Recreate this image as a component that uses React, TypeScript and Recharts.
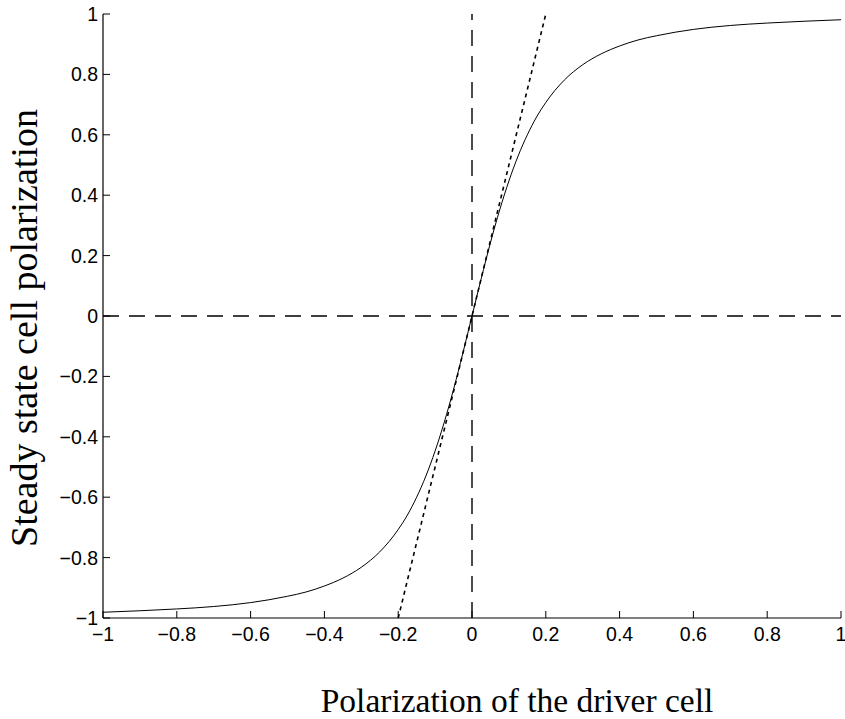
import React from 'react';
import { LineChart, Line, XAxis, YAxis, ReferenceLine, Label } from 'recharts';

// steady state response of the cell
const driverPol = [
  -1, -0.9, -0.8, -0.7, -0.6, -0.5, -0.45, -0.4, -0.35, -0.3, -0.25, -0.2, -0.175, -0.15, -0.125, -0.1, -0.075, -0.05, -0.025,
  0, 0.025, 0.05, 0.075, 0.1, 0.125, 0.15, 0.175, 0.2, 0.25, 0.3, 0.35, 0.4, 0.45, 0.5, 0.6, 0.7, 0.8, 0.9, 1,
];
const cellPol = [
  -0.981, -0.976, -0.970, -0.962, -0.949, -0.928, -0.914, -0.894, -0.868, -0.832, -0.781, -0.707, -0.659, -0.600, -0.530, -0.447, -0.351, -0.243, -0.124,
  0, 0.124, 0.243, 0.351, 0.447, 0.530, 0.600, 0.659, 0.707, 0.781, 0.832, 0.868, 0.894, 0.914, 0.928, 0.949, 0.962, 0.970, 0.976, 0.981,
];

// linear slope line (dotted)
const slopeX = [-0.2, 0.2];
const slopeY = [-1, 1];

// dashed zero lines
const zeroX = 0;
const zeroY = 0;

const axisTicks = [-1, -0.8, -0.6, -0.4, -0.2, 0, 0.2, 0.4, 0.6, 0.8, 1];

const curveData = driverPol.map((x, i) => ({ x, y: cellPol[i] }));
const slopeData = slopeX.map((x, i) => ({ x, y: slopeY[i] }));

const fmt = (v: number) => String(v).replace('-', '\u2212');

const tickFamily = 'Liberation Sans, Arial, sans-serif';
const titleFont = 'Liberation Serif, Times New Roman, serif';

const XTick = (props: any) => {
  const { x, y, payload } = props;
  return (
    <text x={x} y={y} dy={15} textAnchor="middle" fontFamily={tickFamily} fontSize={19.5} fill="#000">
      {fmt(payload.value)}
    </text>
  );
};

const YTick = (props: any) => {
  const { x, y, payload } = props;
  return (
    <text x={x} y={y} dy={7} textAnchor="end" fontFamily={tickFamily} fontSize={19.5} fill="#000">
      {fmt(payload.value)}
    </text>
  );
};

const XTitle = (props: any) => {
  const vb = props.viewBox;
  const cx = vb.x + vb.width / 2 + 45;
  return (
    <text x={cx} y={712} textAnchor="middle" fontFamily={titleFont} fontSize={33.5} fill="#000">
      Polarization of the driver cell
    </text>
  );
};

const YTitle = (props: any) => {
  const vb = props.viewBox;
  const cx = vb.x + 37;
  const cy = vb.y + vb.height / 2 + 12;
  return (
    <text x={cx} y={cy} transform={`rotate(-90 ${cx} ${cy})`} textAnchor="middle" fontFamily={titleFont} fontSize={38} fill="#000">
      Steady state cell polarization
    </text>
  );
};

const Empty = () => <g />;

export default function App() {
  return (
    <div style={{ position: 'absolute', left: 0, top: 0, background: '#fff' }}>
      <LineChart width={845} height={719} margin={{ top: 14, right: 4, left: 0, bottom: 0 }}>
        <XAxis
          dataKey="x"
          type="number"
          domain={[-1, 1]}
          ticks={axisTicks}
          allowDataOverflow
          height={101}
          tickSize={-7}
          tickMargin={15}
          tick={XTick}
          axisLine={{ stroke: '#000', strokeWidth: 1.2 }}
          tickLine={{ stroke: '#000' }}
        >
          <Label content={XTitle} />
        </XAxis>
        <XAxis
          xAxisId="top"
          orientation="top"
          type="number"
          domain={[-1, 1]}
          ticks={axisTicks}
          height={0}
          tickSize={-7}
          tick={Empty}
          axisLine={{ stroke: '#000', strokeWidth: 1.2 }}
          tickLine={{ stroke: '#000' }}
        />
        <YAxis
          dataKey="y"
          type="number"
          domain={[-1, 1]}
          ticks={axisTicks}
          allowDataOverflow
          width={103}
          tickSize={-7}
          tickMargin={12}
          tick={YTick}
          axisLine={{ stroke: '#000', strokeWidth: 1.2 }}
          tickLine={{ stroke: '#000' }}
        >
          <Label content={YTitle} />
        </YAxis>
        <YAxis
          yAxisId="right"
          orientation="right"
          type="number"
          domain={[-1, 1]}
          ticks={axisTicks}
          width={0}
          tickSize={-7}
          tick={Empty}
          axisLine={{ stroke: '#000', strokeWidth: 1.2 }}
          tickLine={{ stroke: '#000' }}
        />
        <ReferenceLine x={zeroX} stroke="#000" strokeWidth={1.4} strokeDasharray="16 10" />
        <ReferenceLine y={zeroY} stroke="#000" strokeWidth={1.4} strokeDasharray="16 10" />
        <Line
          data={slopeData}
          dataKey="y"
          type="linear"
          stroke="#000"
          strokeWidth={1.6}
          strokeDasharray="4 4"
          dot={false}
          activeDot={false}
          isAnimationActive={false}
        />
        <Line
          data={curveData}
          dataKey="y"
          type="monotone"
          stroke="#000"
          strokeWidth={1}
          dot={false}
          activeDot={false}
          isAnimationActive={false}
        />
      </LineChart>
    </div>
  );
}
